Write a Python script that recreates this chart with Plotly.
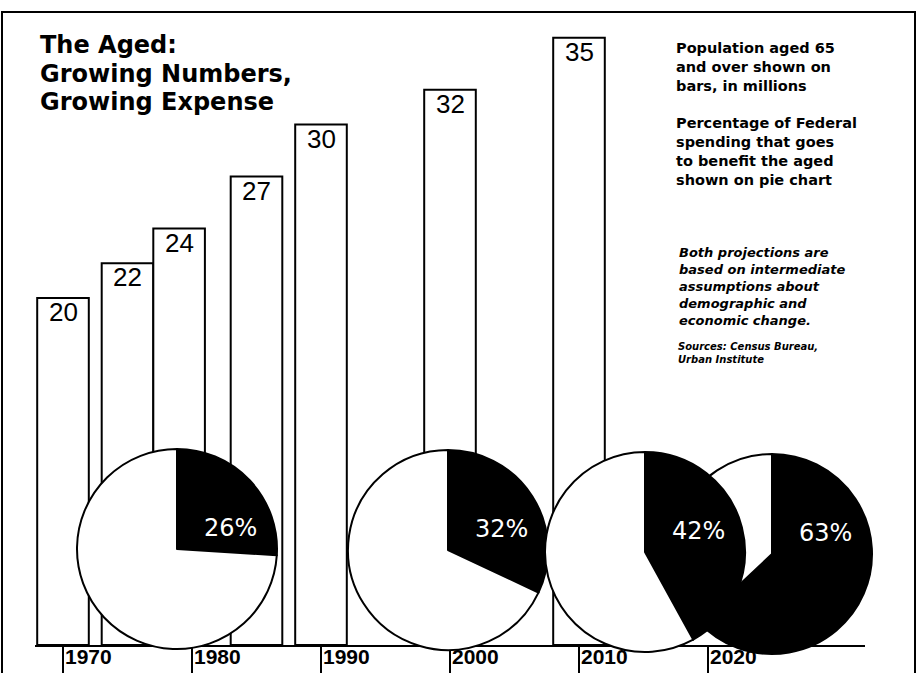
import plotly.graph_objects as go

# ---------------- data ----------------
bar_years = [1970, 1975, 1979, 1985, 1990, 2000, 2010]
population_millions = [20, 22, 24, 27, 30, 32, 35]
pie_shares = [26, 32, 42, 63]          # % of Federal spending to the aged
tick_years = [1970, 1980, 1990, 2000, 2010, 2020]
tick_labels = ["1970", "1980", "1990", "2000", "2010", "2020"]

title_lines = ["The Aged:", "Growing Numbers,", "Growing Expense"]
legend_text = ("Population aged 65<br>and over shown on<br>bars, in millions<br><br>"
               "Percentage of Federal<br>spending that goes<br>to benefit the aged<br>shown on pie chart")
note_text = ("Both projections are<br>based on intermediate<br>assumptions about<br>"
             "demographic and<br>economic change.")
source_text = "Sources: Census Bureau,<br>Urban Institute"

# ---------------- layout geometry (pixels) ----------------
W, H = 918, 673
ML, MR, MT, MB = 35, 3, 20, 0
PW, PH = W - ML - MR, H - MT - MB
AXIS_RIGHT_PX = 865
BASELINE_PX = 645
BAR_WIDTH = 4


def px_x(px):
    return (px - ML) / PW


def px_y(py):
    return (H - MB - py) / PH


def pie_domain(cx, cy, r):
    return dict(x=[px_x(cx - r), px_x(cx + r)], y=[px_y(cy + r), px_y(cy - r)])


pie_geom = [(177, 549, 100), (448, 550, 100), (645, 552, 100), (772, 554, 100)]
PCT_DX, PCT_DY = 53, -21   # label offset from pie centre (px)

fig = go.Figure()

fig.add_trace(go.Bar(
    x=bar_years, y=population_millions, width=BAR_WIDTH,
    marker=dict(color="white", line=dict(color="black", width=2)),
    hoverinfo="skip",
))

# value labels at the top of each bar
for yr, v in zip(bar_years, population_millions):
    fig.add_annotation(
        xref="x", yref="y", x=yr, y=v, yshift=2,
        xanchor="center", yanchor="top", showarrow=False,
        text=str(v), borderpad=0,
        font=dict(family="Liberation Sans, Arial", size=26, color="black"),
    )

# pie order: the 4th pie lies beneath the 3rd
for i in [0, 1, 3, 2]:
    share = pie_shares[i]
    cx, cy, r = pie_geom[i]
    fig.add_trace(go.Pie(
        values=[share, 100 - share],
        labels=["aged", "other"],
        textinfo="none",
        sort=False, direction="clockwise", rotation=0,
        marker=dict(colors=["black", "white"], line=dict(color="black", width=2)),
        domain=pie_domain(cx, cy, r),
        showlegend=False, hoverinfo="skip",
    ))

for i, share in enumerate(pie_shares):
    cx, cy, r = pie_geom[i]
    fig.add_annotation(
        xref="paper", yref="paper", x=px_x(cx + PCT_DX), y=px_y(cy + PCT_DY),
        xanchor="center", yanchor="middle", showarrow=False,
        text=f"{share}%",
        font=dict(family="DejaVu Sans", size=24, color="white"),
    )

fig.update_layout(
    width=W, height=H,
    margin=dict(l=ML, r=MR, t=MT, b=MB, pad=0, autoexpand=False),
    paper_bgcolor="white", plot_bgcolor="white",
    showlegend=False,
    xaxis=dict(
        domain=[0, px_x(AXIS_RIGHT_PX)],
        range=[1970 - 28 / 12.9, 1970 - 28 / 12.9 + (AXIS_RIGHT_PX - ML) / 12.9],
        tickvals=tick_years, ticktext=tick_labels,
        ticks="outside", ticklen=30, tickwidth=2, tickcolor="black",
        showline=True, linecolor="black", linewidth=2,
        showgrid=False, zeroline=False, automargin=False,
        ticklabelposition="outside right", ticklabelstandoff=-8,
        tickfont=dict(family="Liberation Sans, Arial", size=21, color="black", weight="bold"),
    ),
    yaxis=dict(
        domain=[px_y(BASELINE_PX), 1],
        range=[0, (BASELINE_PX - MT) / 17.35],
        visible=False, showgrid=False, zeroline=False, automargin=False,
    ),
)

for k, line in enumerate(title_lines):
    fig.add_annotation(
        xref="paper", yref="paper", x=px_x(39), y=px_y(30 + 28.5 * k),
        xanchor="left", yanchor="top", align="left", showarrow=False,
        text=line, borderpad=0,
        font=dict(family="DejaVu Sans", size=24, color="black", weight="bold"),
    )

annos = [
    dict(text=legend_text, x=px_x(675), y=px_y(39), size=14.5, style="normal"),
    dict(text=note_text, x=px_x(678), y=px_y(244), size=13, style="italic"),
    dict(text=source_text, x=px_x(677), y=px_y(340), size=10, style="italic"),
]
for a in annos:
    fig.add_annotation(
        xref="paper", yref="paper", x=a["x"], y=a["y"],
        xanchor="left", yanchor="top", align="left", showarrow=False,
        text=a["text"], borderpad=0,
        font=dict(family="DejaVu Sans", size=a["size"], color="black",
                  weight="bold", style=a["style"]),
    )

# outer frame of the newspaper graphic
fig.add_shape(type="rect", xref="paper", yref="paper",
              x0=px_x(2), x1=px_x(915), y0=px_y(690), y1=px_y(12),
              line=dict(color="black", width=2), layer="below")

fig.write_html("out.html")
